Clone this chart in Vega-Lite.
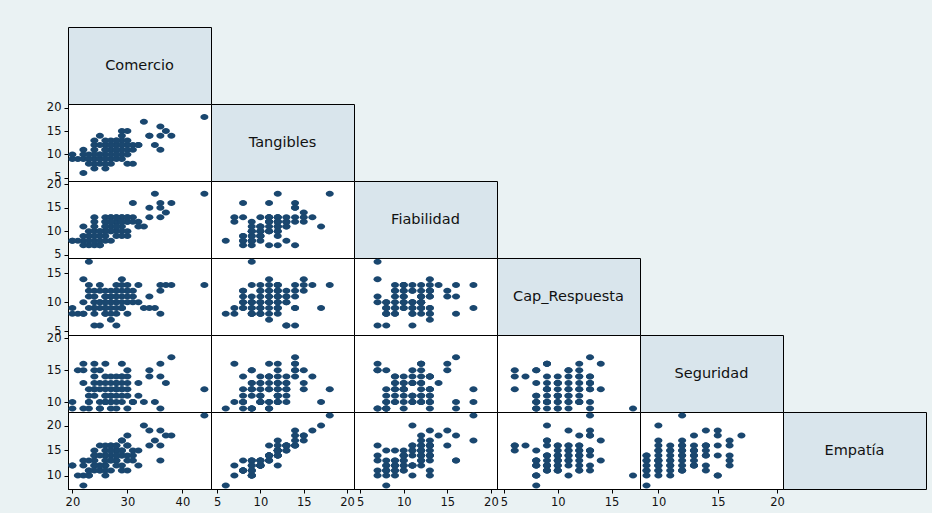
{
"$schema":"https://vega.github.io/schema/vega-lite/v6.json",
"background":"#eaf2f3",
"padding":{"left":45,"top":26,"right":5,"bottom":5},
"spacing":0,
"bounds":"flush",
"columns":6,
"config":{
 "view":{"stroke":"#000","strokeWidth":1,"fill":"white"},
 "concat":{"spacing":0},
 "point":{"shape":"M-1,0A1,0.75,0,1,0,1,0A1,0.75,0,1,0,-1,0Z","filled":true,"size":64,"opacity":1,"color":"#1a476f"},
 "text":{"font":"DejaVu Sans","fontSize":14.5,"color":"#111"},
 "axis":{"grid":false,"title":null,"domainColor":"#000","tickColor":"#000","tickSize":4,"labelFont":"DejaVu Sans","labelFontSize":11.5,"labelColor":"#111","labelPadding":3,"labelFlush":false,"labelOverlap":false,"labelBound":false}
},
"data":{"values":[
{"Comercio":44,"Tangibles":18,"Fiabilidad":18,"Cap_Respuesta":13,"Seguridad":12,"Empatia":22},
{"Comercio":33,"Tangibles":17,"Fiabilidad":11,"Cap_Respuesta":9,"Seguridad":10,"Empatia":20},
{"Comercio":36,"Tangibles":16,"Fiabilidad":13,"Cap_Respuesta":13,"Seguridad":14,"Empatia":19},
{"Comercio":37,"Tangibles":15,"Fiabilidad":14,"Cap_Respuesta":13,"Seguridad":13,"Empatia":18},
{"Comercio":38,"Tangibles":14,"Fiabilidad":16,"Cap_Respuesta":13,"Seguridad":17,"Empatia":18},
{"Comercio":34,"Tangibles":14,"Fiabilidad":15,"Cap_Respuesta":11,"Seguridad":15,"Empatia":19},
{"Comercio":36,"Tangibles":14,"Fiabilidad":15,"Cap_Respuesta":12,"Seguridad":16,"Empatia":16},
{"Comercio":35,"Tangibles":12,"Fiabilidad":18,"Cap_Respuesta":9,"Seguridad":10,"Empatia":17},
{"Comercio":36,"Tangibles":11,"Fiabilidad":16,"Cap_Respuesta":8,"Seguridad":9,"Empatia":13},
{"Comercio":34,"Tangibles":14,"Fiabilidad":13,"Cap_Respuesta":9,"Seguridad":14,"Empatia":16},
{"Comercio":29,"Tangibles":15,"Fiabilidad":13,"Cap_Respuesta":14,"Seguridad":12,"Empatia":17},
{"Comercio":30,"Tangibles":15,"Fiabilidad":12,"Cap_Respuesta":12,"Seguridad":15,"Empatia":18},
{"Comercio":31,"Tangibles":12,"Fiabilidad":13,"Cap_Respuesta":12,"Seguridad":10,"Empatia":15},
{"Comercio":32,"Tangibles":12,"Fiabilidad":12,"Cap_Respuesta":13,"Seguridad":13,"Empatia":15},
{"Comercio":32,"Tangibles":12,"Fiabilidad":11,"Cap_Respuesta":10,"Seguridad":11,"Empatia":12},
{"Comercio":31,"Tangibles":8,"Fiabilidad":16,"Cap_Respuesta":11,"Seguridad":10,"Empatia":13},
{"Comercio":30,"Tangibles":8,"Fiabilidad":9,"Cap_Respuesta":12,"Seguridad":14,"Empatia":11},
{"Comercio":30,"Tangibles":12,"Fiabilidad":13,"Cap_Respuesta":11,"Seguridad":12,"Empatia":16},
{"Comercio":20,"Tangibles":10,"Fiabilidad":8,"Cap_Respuesta":9,"Seguridad":10,"Empatia":12},
{"Comercio":21,"Tangibles":9,"Fiabilidad":8,"Cap_Respuesta":8,"Seguridad":15,"Empatia":10},
{"Comercio":22,"Tangibles":6,"Fiabilidad":8,"Cap_Respuesta":8,"Seguridad":9,"Empatia":8},
{"Comercio":22,"Tangibles":11,"Fiabilidad":7,"Cap_Respuesta":14,"Seguridad":16,"Empatia":13},
{"Comercio":22,"Tangibles":10,"Fiabilidad":9,"Cap_Respuesta":10,"Seguridad":13,"Empatia":12},
{"Comercio":22,"Tangibles":9,"Fiabilidad":11,"Cap_Respuesta":8,"Seguridad":15,"Empatia":10},
{"Comercio":23,"Tangibles":9,"Fiabilidad":7,"Cap_Respuesta":17,"Seguridad":9,"Empatia":10},
{"Comercio":23,"Tangibles":9,"Fiabilidad":10,"Cap_Respuesta":13,"Seguridad":12,"Empatia":11},
{"Comercio":24,"Tangibles":7,"Fiabilidad":12,"Cap_Respuesta":9,"Seguridad":16,"Empatia":12},
{"Comercio":24,"Tangibles":9,"Fiabilidad":10,"Cap_Respuesta":10,"Seguridad":13,"Empatia":13},
{"Comercio":24,"Tangibles":12,"Fiabilidad":7,"Cap_Respuesta":11,"Seguridad":15,"Empatia":14},
{"Comercio":24,"Tangibles":13,"Fiabilidad":8,"Cap_Respuesta":6,"Seguridad":12,"Empatia":15},
{"Comercio":25,"Tangibles":8,"Fiabilidad":7,"Cap_Respuesta":10,"Seguridad":9,"Empatia":11},
{"Comercio":25,"Tangibles":14,"Fiabilidad":7,"Cap_Respuesta":6,"Seguridad":15,"Empatia":16},
{"Comercio":26,"Tangibles":7,"Fiabilidad":13,"Cap_Respuesta":8,"Seguridad":10,"Empatia":10},
{"Comercio":26,"Tangibles":10,"Fiabilidad":10,"Cap_Respuesta":11,"Seguridad":14,"Empatia":12},
{"Comercio":26,"Tangibles":12,"Fiabilidad":12,"Cap_Respuesta":9,"Seguridad":16,"Empatia":14},
{"Comercio":26,"Tangibles":12,"Fiabilidad":11,"Cap_Respuesta":12,"Seguridad":11,"Empatia":15},
{"Comercio":27,"Tangibles":11,"Fiabilidad":13,"Cap_Respuesta":7,"Seguridad":14,"Empatia":16},
{"Comercio":27,"Tangibles":12,"Fiabilidad":10,"Cap_Respuesta":11,"Seguridad":12,"Empatia":15},
{"Comercio":27,"Tangibles":11,"Fiabilidad":11,"Cap_Respuesta":10,"Seguridad":13,"Empatia":14},
{"Comercio":27,"Tangibles":9,"Fiabilidad":8,"Cap_Respuesta":9,"Seguridad":9,"Empatia":13},
{"Comercio":27,"Tangibles":8,"Fiabilidad":13,"Cap_Respuesta":12,"Seguridad":10,"Empatia":11},
{"Comercio":28,"Tangibles":13,"Fiabilidad":11,"Cap_Respuesta":6,"Seguridad":14,"Empatia":16},
{"Comercio":28,"Tangibles":12,"Fiabilidad":12,"Cap_Respuesta":10,"Seguridad":11,"Empatia":15},
{"Comercio":28,"Tangibles":11,"Fiabilidad":10,"Cap_Respuesta":12,"Seguridad":12,"Empatia":14},
{"Comercio":28,"Tangibles":10,"Fiabilidad":9,"Cap_Respuesta":8,"Seguridad":10,"Empatia":13},
{"Comercio":29,"Tangibles":13,"Fiabilidad":12,"Cap_Respuesta":11,"Seguridad":13,"Empatia":15},
{"Comercio":29,"Tangibles":12,"Fiabilidad":13,"Cap_Respuesta":9,"Seguridad":11,"Empatia":14},
{"Comercio":29,"Tangibles":10,"Fiabilidad":11,"Cap_Respuesta":12,"Seguridad":10,"Empatia":12},
{"Comercio":28,"Tangibles":9,"Fiabilidad":12,"Cap_Respuesta":10,"Seguridad":12,"Empatia":13},
{"Comercio":25,"Tangibles":9,"Fiabilidad":8,"Cap_Respuesta":10,"Seguridad":9,"Empatia":11},
{"Comercio":23,"Tangibles":9,"Fiabilidad":9,"Cap_Respuesta":11,"Seguridad":11,"Empatia":10},
{"Comercio":24,"Tangibles":11,"Fiabilidad":13,"Cap_Respuesta":12,"Seguridad":14,"Empatia":14},
{"Comercio":20,"Tangibles":9,"Fiabilidad":8,"Cap_Respuesta":8,"Seguridad":9,"Empatia":12},
{"Comercio":26,"Tangibles":9,"Fiabilidad":9,"Cap_Respuesta":8,"Seguridad":13,"Empatia":12},
{"Comercio":25,"Tangibles":10,"Fiabilidad":9,"Cap_Respuesta":9,"Seguridad":12,"Empatia":12},
{"Comercio":27,"Tangibles":10,"Fiabilidad":10,"Cap_Respuesta":10,"Seguridad":11,"Empatia":13},
{"Comercio":29,"Tangibles":11,"Fiabilidad":12,"Cap_Respuesta":10,"Seguridad":14,"Empatia":14},
{"Comercio":28,"Tangibles":12,"Fiabilidad":11,"Cap_Respuesta":13,"Seguridad":13,"Empatia":15},
{"Comercio":26,"Tangibles":11,"Fiabilidad":10,"Cap_Respuesta":9,"Seguridad":12,"Empatia":14},
{"Comercio":30,"Tangibles":13,"Fiabilidad":12,"Cap_Respuesta":10,"Seguridad":13,"Empatia":16},
{"Comercio":25,"Tangibles":10,"Fiabilidad":10,"Cap_Respuesta":13,"Seguridad":10,"Empatia":12},
{"Comercio":27,"Tangibles":12,"Fiabilidad":12,"Cap_Respuesta":8,"Seguridad":10,"Empatia":15},
{"Comercio":28,"Tangibles":11,"Fiabilidad":13,"Cap_Respuesta":11,"Seguridad":9,"Empatia":14},
{"Comercio":26,"Tangibles":13,"Fiabilidad":11,"Cap_Respuesta":10,"Seguridad":10,"Empatia":16},
{"Comercio":29,"Tangibles":9,"Fiabilidad":10,"Cap_Respuesta":9,"Seguridad":12,"Empatia":11},
{"Comercio":24,"Tangibles":10,"Fiabilidad":11,"Cap_Respuesta":8,"Seguridad":11,"Empatia":12},
{"Comercio":27,"Tangibles":13,"Fiabilidad":12,"Cap_Respuesta":11,"Seguridad":11,"Empatia":16},
{"Comercio":30,"Tangibles":11,"Fiabilidad":10,"Cap_Respuesta":13,"Seguridad":9,"Empatia":14},
{"Comercio":23,"Tangibles":10,"Fiabilidad":9,"Cap_Respuesta":12,"Seguridad":10,"Empatia":13},
{"Comercio":26,"Tangibles":8,"Fiabilidad":8,"Cap_Respuesta":10,"Seguridad":11,"Empatia":11},
{"Comercio":28,"Tangibles":10,"Fiabilidad":11,"Cap_Respuesta":9,"Seguridad":13,"Empatia":12},
{"Comercio":31,"Tangibles":11,"Fiabilidad":12,"Cap_Respuesta":10,"Seguridad":10,"Empatia":14},
{"Comercio":25,"Tangibles":12,"Fiabilidad":10,"Cap_Respuesta":12,"Seguridad":13,"Empatia":14},
{"Comercio":29,"Tangibles":12,"Fiabilidad":9,"Cap_Respuesta":13,"Seguridad":14,"Empatia":15},
{"Comercio":29,"Tangibles":14,"Fiabilidad":12,"Cap_Respuesta":9,"Seguridad":16,"Empatia":17},
{"Comercio":24,"Tangibles":8,"Fiabilidad":9,"Cap_Respuesta":9,"Seguridad":12,"Empatia":11},
{"Comercio":28,"Tangibles":13,"Fiabilidad":13,"Cap_Respuesta":12,"Seguridad":12,"Empatia":16},
{"Comercio":26,"Tangibles":11,"Fiabilidad":12,"Cap_Respuesta":11,"Seguridad":10,"Empatia":13},
{"Comercio":23,"Tangibles":8,"Fiabilidad":8,"Cap_Respuesta":9,"Seguridad":10,"Empatia":11},
{"Comercio":30,"Tangibles":10,"Fiabilidad":13,"Cap_Respuesta":8,"Seguridad":11,"Empatia":13}
]},
"concat":[
  {"width":143,"height":77,"view":{"fill":"#d9e5ec","stroke":"#000"},"data":{"values":[{"label":"Comercio"}]},"mark":{"type":"text","align":"center","baseline":"middle"},"encoding":{"text":{"field":"label"}}},
  {"width":143,"height":77,"view":{"fill":null,"stroke":null},"data":{"values":[]},"mark":"point"},
  {"width":143,"height":77,"view":{"fill":null,"stroke":null},"data":{"values":[]},"mark":"point"},
  {"width":143,"height":77,"view":{"fill":null,"stroke":null},"data":{"values":[]},"mark":"point"},
  {"width":143,"height":77,"view":{"fill":null,"stroke":null},"data":{"values":[]},"mark":"point"},
  {"width":143,"height":77,"view":{"fill":null,"stroke":null},"data":{"values":[]},"mark":"point"},

  {"width":143,"height":77,"mark":"point","encoding":{
   "x":{"field":"Comercio","type":"quantitative","scale":{"domain":[19.2,45.2],"nice":false,"zero":false},"axis":null},
   "y":{"field":"Tangibles","type":"quantitative","scale":{"domain":[4.3,20.8],"nice":false,"zero":false},"axis":{"values":[5,10,15,20]}}}},
  {"width":143,"height":77,"view":{"fill":"#d9e5ec","stroke":"#000"},"data":{"values":[{"label":"Tangibles"}]},"mark":{"type":"text","align":"center","baseline":"middle"},"encoding":{"text":{"field":"label"}}},
  {"width":143,"height":77,"view":{"fill":null,"stroke":null},"data":{"values":[]},"mark":"point"},
  {"width":143,"height":77,"view":{"fill":null,"stroke":null},"data":{"values":[]},"mark":"point"},
  {"width":143,"height":77,"view":{"fill":null,"stroke":null},"data":{"values":[]},"mark":"point"},
  {"width":143,"height":77,"view":{"fill":null,"stroke":null},"data":{"values":[]},"mark":"point"},

  {"width":143,"height":77,"mark":"point","encoding":{
   "x":{"field":"Comercio","type":"quantitative","scale":{"domain":[19.2,45.2],"nice":false,"zero":false},"axis":null},
   "y":{"field":"Fiabilidad","type":"quantitative","scale":{"domain":[4.3,20.7],"nice":false,"zero":false},"axis":{"values":[5,10,15,20]}}}},
  {"width":143,"height":77,"mark":"point","encoding":{
   "x":{"field":"Tangibles","type":"quantitative","scale":{"domain":[4.3,20.8],"nice":false,"zero":false},"axis":null},
   "y":{"field":"Fiabilidad","type":"quantitative","scale":{"domain":[4.3,20.7],"nice":false,"zero":false},"axis":null}}},
  {"width":143,"height":77,"view":{"fill":"#d9e5ec","stroke":"#000"},"data":{"values":[{"label":"Fiabilidad"}]},"mark":{"type":"text","align":"center","baseline":"middle"},"encoding":{"text":{"field":"label"}}},
  {"width":143,"height":77,"view":{"fill":null,"stroke":null},"data":{"values":[]},"mark":"point"},
  {"width":143,"height":77,"view":{"fill":null,"stroke":null},"data":{"values":[]},"mark":"point"},
  {"width":143,"height":77,"view":{"fill":null,"stroke":null},"data":{"values":[]},"mark":"point"},

  {"width":143,"height":77,"mark":"point","encoding":{
   "x":{"field":"Comercio","type":"quantitative","scale":{"domain":[19.2,45.2],"nice":false,"zero":false},"axis":null},
   "y":{"field":"Cap_Respuesta","type":"quantitative","scale":{"domain":[4.35,17.65],"nice":false,"zero":false},"axis":{"values":[5,10,15]}}}},
  {"width":143,"height":77,"mark":"point","encoding":{
   "x":{"field":"Tangibles","type":"quantitative","scale":{"domain":[4.3,20.8],"nice":false,"zero":false},"axis":null},
   "y":{"field":"Cap_Respuesta","type":"quantitative","scale":{"domain":[4.35,17.65],"nice":false,"zero":false},"axis":null}}},
  {"width":143,"height":77,"mark":"point","encoding":{
   "x":{"field":"Fiabilidad","type":"quantitative","scale":{"domain":[4.3,20.7],"nice":false,"zero":false},"axis":null},
   "y":{"field":"Cap_Respuesta","type":"quantitative","scale":{"domain":[4.35,17.65],"nice":false,"zero":false},"axis":null}}},
  {"width":143,"height":77,"view":{"fill":"#d9e5ec","stroke":"#000"},"data":{"values":[{"label":"Cap_Respuesta"}]},"mark":{"type":"text","align":"center","baseline":"middle"},"encoding":{"text":{"field":"label"}}},
  {"width":143,"height":77,"view":{"fill":null,"stroke":null},"data":{"values":[]},"mark":"point"},
  {"width":143,"height":77,"view":{"fill":null,"stroke":null},"data":{"values":[]},"mark":"point"},

  {"width":143,"height":77,"mark":"point","encoding":{
   "x":{"field":"Comercio","type":"quantitative","scale":{"domain":[19.2,45.2],"nice":false,"zero":false},"axis":null},
   "y":{"field":"Seguridad","type":"quantitative","scale":{"domain":[8.45,20.5],"nice":false,"zero":false},"axis":{"values":[10,15,20]}}}},
  {"width":143,"height":77,"mark":"point","encoding":{
   "x":{"field":"Tangibles","type":"quantitative","scale":{"domain":[4.3,20.8],"nice":false,"zero":false},"axis":null},
   "y":{"field":"Seguridad","type":"quantitative","scale":{"domain":[8.45,20.5],"nice":false,"zero":false},"axis":null}}},
  {"width":143,"height":77,"mark":"point","encoding":{
   "x":{"field":"Fiabilidad","type":"quantitative","scale":{"domain":[4.3,20.7],"nice":false,"zero":false},"axis":null},
   "y":{"field":"Seguridad","type":"quantitative","scale":{"domain":[8.45,20.5],"nice":false,"zero":false},"axis":null}}},
  {"width":143,"height":77,"mark":"point","encoding":{
   "x":{"field":"Cap_Respuesta","type":"quantitative","scale":{"domain":[4.35,17.65],"nice":false,"zero":false},"axis":null},
   "y":{"field":"Seguridad","type":"quantitative","scale":{"domain":[8.45,20.5],"nice":false,"zero":false},"axis":null}}},
  {"width":143,"height":77,"view":{"fill":"#d9e5ec","stroke":"#000"},"data":{"values":[{"label":"Seguridad"}]},"mark":{"type":"text","align":"center","baseline":"middle"},"encoding":{"text":{"field":"label"}}},
  {"width":143,"height":77,"view":{"fill":null,"stroke":null},"data":{"values":[]},"mark":"point"},

  {"width":143,"height":77,"mark":"point","encoding":{
   "x":{"field":"Comercio","type":"quantitative","scale":{"domain":[19.2,45.2],"nice":false,"zero":false},"axis":{"values":[20,30,40]}},
   "y":{"field":"Empatia","type":"quantitative","scale":{"domain":[7.3,22.7],"nice":false,"zero":false},"axis":{"values":[10,15,20]}}}},
  {"width":143,"height":77,"mark":"point","encoding":{
   "x":{"field":"Tangibles","type":"quantitative","scale":{"domain":[4.3,20.8],"nice":false,"zero":false},"axis":{"values":[5,10,15,20]}},
   "y":{"field":"Empatia","type":"quantitative","scale":{"domain":[7.3,22.7],"nice":false,"zero":false},"axis":null}}},
  {"width":143,"height":77,"mark":"point","encoding":{
   "x":{"field":"Fiabilidad","type":"quantitative","scale":{"domain":[4.3,20.7],"nice":false,"zero":false},"axis":{"values":[5,10,15,20]}},
   "y":{"field":"Empatia","type":"quantitative","scale":{"domain":[7.3,22.7],"nice":false,"zero":false},"axis":null}}},
  {"width":143,"height":77,"mark":"point","encoding":{
   "x":{"field":"Cap_Respuesta","type":"quantitative","scale":{"domain":[4.35,17.65],"nice":false,"zero":false},"axis":{"values":[5,10,15]}},
   "y":{"field":"Empatia","type":"quantitative","scale":{"domain":[7.3,22.7],"nice":false,"zero":false},"axis":null}}},
  {"width":143,"height":77,"mark":"point","encoding":{
   "x":{"field":"Seguridad","type":"quantitative","scale":{"domain":[8.45,20.5],"nice":false,"zero":false},"axis":{"values":[10,15,20]}},
   "y":{"field":"Empatia","type":"quantitative","scale":{"domain":[7.3,22.7],"nice":false,"zero":false},"axis":null}}},
  {"width":143,"height":77,"view":{"fill":"#d9e5ec","stroke":"#000"},"data":{"values":[{"label":"Empatía"}]},"mark":{"type":"text","align":"center","baseline":"middle"},"encoding":{"text":{"field":"label"}}}
]
}
